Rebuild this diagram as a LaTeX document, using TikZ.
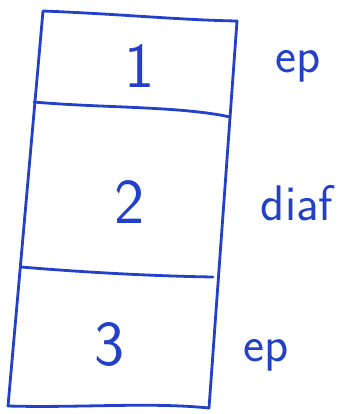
\documentclass[tikz,border=0pt]{standalone}
\usepackage{fontspec}
\definecolor{pen}{RGB}{35,65,200}
\begin{document}
\begin{tikzpicture}[x=1pt,y=-1pt,
  ink/.style={draw=pen,line width=2.8pt,line join=round,line cap=round},
  digit/.style={text=pen,font=\sffamily\fontsize{64}{64}\selectfont,inner sep=0pt},
  side/.style={text=pen,font=\sffamily\fontsize{50}{50}\selectfont,inner sep=0pt}]
\useasboundingbox (0,0) rectangle (341,414);
% outer corners
\coordinate (tl) at (43,11);
\coordinate (tr) at (237,21);
\coordinate (br) at (209,408);
\coordinate (bl) at (8,406);
% dividers
\coordinate (d1l) at (34,102);
\coordinate (d1r) at (230,117);
\coordinate (d2l) at (21,267);
\coordinate (d2r) at (213,277);
\draw[ink] (tl) .. controls (120,14) and (180,20) .. (tr) -- (br)
  .. controls (150,402) and (80,408) .. (bl) -- cycle;
\draw[ink] (d1l) .. controls (100,108) and (180,106) .. (d1r);
\draw[ink] (d2l) .. controls (80,272) and (150,276) .. (d2r);
% labels
\node[digit] (n1) at (140,66) {1};
\node[digit] (n2) at (130,202) {2};
\node[digit] (n3) at (110,345) {3};
\node[side] (s1) at (298,66) {ep};
\node[side] (s2) at (297,203) {diaf};
\node[side] (s3) at (266,355) {ep};
\end{tikzpicture}
\end{document}
